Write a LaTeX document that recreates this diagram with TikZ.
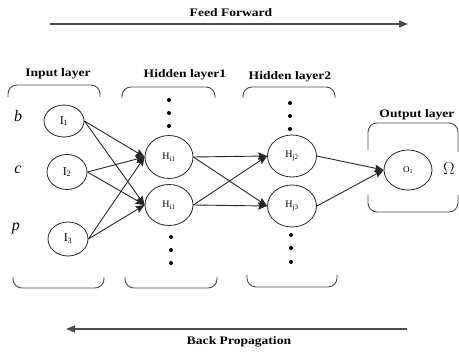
\documentclass[tikz,border=0pt]{standalone}
\usepackage{fontspec}
\setmainfont{Liberation Serif}
\newfontfamily\lbl[FakeStretch=1.18]{Liberation Serif}
\usetikzlibrary{arrows.meta,shapes.geometric}
\begin{document}
\begin{tikzpicture}[x=1pt,y=-1pt,
  neuron/.style={draw=black!85, line width=0.8pt, ellipse, inner sep=0pt},
  conn/.style={draw=black!85, line width=0.9pt, -{Stealth[length=9pt,width=7.5pt,inset=1.5pt]}},
  bigarrow/.style={draw=black!70, line width=1.5pt, -{Triangle[length=9pt,width=7pt]}},
  layerlbl/.style={font=\lbl\bfseries\fontsize{11.5}{13}\selectfont, inner sep=0pt},
  bracket/.style={draw=black!70, line width=0.9pt, rounded corners=9pt},
  vdot/.style={circle, fill=black, inner sep=0pt, minimum size=4pt},
  var/.style={font=\fontsize{16}{18}\selectfont\itshape, inner sep=0pt},
  inlbl/.style={font=\fontsize{12}{13}\selectfont},
  hlbl/.style={font=\fontsize{10}{11}\selectfont}
]
\useasboundingbox (0,0) rectangle (459,353);

% Feed forward / back propagation
\node[layerlbl] (ff) at (231,13) {Feed Forward};
\coordinate (ffs) at (50,24);
\coordinate (ffe) at (408,24);
\draw[bigarrow] (ffs) -- (ffe);
\node[layerlbl] (bp) at (239,342) {Back Propagation};
\coordinate (bps) at (407,329);
\coordinate (bpe) at (66,329);
\draw[bigarrow] (bps) -- (bpe);

% layer labels
\node[layerlbl] (lin) at (58,74) {Input layer};
\node[layerlbl] (lh1) at (185,75) {Hidden layer1};
\node[layerlbl] (lh2) at (290,77) {Hidden layer2};
\node[layerlbl] (lout) at (417,115) {Output layer};

% top brackets
\draw[bracket] (8,97) -- (8,85) -- (100,85) -- (100,97);
\draw[bracket] (122,98) -- (122,87) -- (215,87) -- (215,98);
\draw[bracket] (243,98) -- (243,87) -- (335,87) -- (335,98);
% bottom brackets
\draw[bracket] (13,277) -- (13,288) -- (104,288) -- (104,277);
\draw[bracket] (125,277) -- (125,288) -- (217,288) -- (217,277);
\draw[bracket] (247,275) -- (247,287) -- (337,287) -- (337,275);
% output brackets
\draw[bracket] (368,150) -- (368,123) -- (458,123) -- (458,152);
\draw[bracket] (368,195) -- (368,212) -- (458,212) -- (458,195);

% variables
\node[var] (vb) at (18,116) {b};
\node[var] (vc) at (18,170) {c};
\node[var] (vp) at (16,228) {p};
\node[font=\fontsize{16}{18}\selectfont, inner sep=0pt] (om) at (449,169) {$\Omega$};

% neurons
\node[neuron, minimum width=40pt, minimum height=32pt, inlbl] (I1) at (64,121) {I\textsubscript{1}};
\node[neuron, minimum width=40pt, minimum height=35pt, inlbl] (I2) at (67,172) {I\textsubscript{2}};
\node[neuron, minimum width=40pt, minimum height=34pt, inlbl] (I3) at (68,239) {I\textsubscript{3}};
\node[neuron, minimum width=48pt, minimum height=43pt, hlbl] (H11) at (169,157) {H\textsubscript{i1}};
\node[neuron, minimum width=48pt, minimum height=41pt, hlbl] (H12) at (169,205) {H\textsubscript{i1}};
\node[neuron, minimum width=49pt, minimum height=42pt, hlbl] (H22) at (292,156) {H\textsubscript{j2}};
\node[neuron, minimum width=49pt, minimum height=42pt, hlbl] (H23) at (292,206) {H\textsubscript{j3}};
\node[neuron, minimum width=48pt, minimum height=40pt, font=\fontsize{9}{10}\selectfont] (O1) at (408,170) {O\textsubscript{1}};

% dots
\node[vdot] (da1) at (169,100) {};
\node[vdot] (da2) at (169,113) {};
\node[vdot] (da3) at (169,126) {};
\node[vdot] (db1) at (171,237) {};
\node[vdot] (db2) at (171,250) {};
\node[vdot] (db3) at (171,263) {};
\node[vdot] (dc1) at (290,103) {};
\node[vdot] (dc2) at (290,116) {};
\node[vdot] (dc3) at (290,129) {};
\node[vdot] (dd1) at (291,235) {};
\node[vdot] (dd2) at (291,248) {};
\node[vdot] (dd3) at (291,262) {};

% connections
\foreach \s in {I1,I2,I3}{
  \draw[conn] (\s.east) -- (H11.west);
  \draw[conn] (\s.east) -- (H12.west);
}
\foreach \s in {H11,H12}{
  \draw[conn] (\s.east) -- (H22.west);
  \draw[conn] (\s.east) -- (H23.west);
}
\draw[conn] (H22.east) -- (O1.west);
\draw[conn] (H23.east) -- (O1.west);
\end{tikzpicture}
\end{document}
